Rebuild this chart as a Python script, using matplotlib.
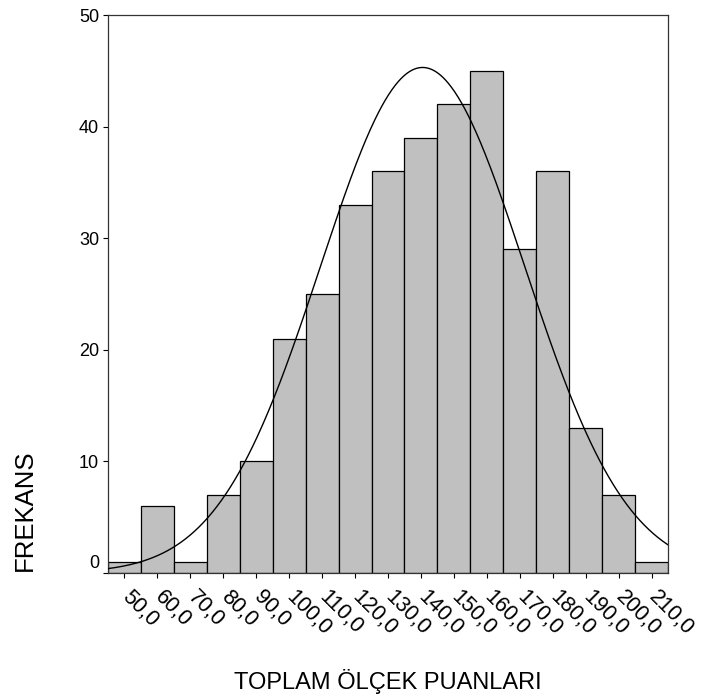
import numpy as np
import matplotlib
matplotlib.use("Agg")
import matplotlib.pyplot as plt
from matplotlib.transforms import ScaledTranslation

plt.rcParams['font.family'] = ['Liberation Sans', 'DejaVu Sans']

# bin centres and frequencies
bin_centers = [50, 60, 70, 80, 90, 100, 110, 120, 130, 140, 150, 160, 170, 180, 190, 200, 210]
frequencies = [1, 6, 1, 7, 10, 21, 25, 33, 36, 39, 42, 45, 29, 36, 13, 7, 1]
tick_labels = ["50,0", "60,0", "70,0", "80,0", "90,0", "100,0", "110,0", "120,0", "130,0",
               "140,0", "150,0", "160,0", "170,0", "180,0", "190,0", "200,0", "210,0"]
y_ticks = [0, 10, 20, 30, 40, 50]

# fitted normal curve parameters (estimated)
curve_mean = 140.5
curve_sd = 31.0
bin_width = 10

fig = plt.figure(figsize=(7.06, 7.0), dpi=100)
ax = fig.add_axes([108 / 706, 1 - 573 / 700, 560 / 706, 558 / 700])

ax.bar(bin_centers, frequencies, width=bin_width, color='#c0c0c0',
       edgecolor='black', linewidth=0.9, zorder=2)

n = sum(frequencies)
xs = np.linspace(45, 215, 500)
ys = n * bin_width / (curve_sd * np.sqrt(2 * np.pi)) * np.exp(-(xs - curve_mean) ** 2 / (2 * curve_sd ** 2))
ax.plot(xs, ys, color='black', linewidth=1.0, zorder=3)

ax.set_xlim(45, 215)
ax.set_ylim(0, 50)
ax.set_yticks(y_ticks)
ax.set_yticklabels([str(v) for v in y_ticks], fontsize=13)
ax.set_xticks(bin_centers)
ax.set_xticklabels(tick_labels, fontsize=15.5, rotation=-45, ha='left', va='top',
                   rotation_mode='anchor')
ax.tick_params(axis='both', direction='out', length=3.5, width=0.8, color='black')
ax.tick_params(axis='x', pad=6)
ax.tick_params(axis='y', pad=3)

# shift x labels slightly right
shift = ScaledTranslation(8 / 100, 0, fig.dpi_scale_trans)
for lab in ax.get_xticklabels():
    lab.set_transform(lab.get_transform() + shift)

# zero label sits above the axis line
zero_lab = ax.get_yticklabels()[0]
zero_lab.set_transform(zero_lab.get_transform() + ScaledTranslation(0, 11 / 100, fig.dpi_scale_trans))

for sp in ax.spines.values():
    sp.set_linewidth(0.9)
    sp.set_color('#333333')

fig.text(388 / 706, 1 - 682 / 700, "TOPLAM ÖLÇEK PUANLARI", ha='center', va='center', fontsize=17)
fig.text(25 / 706, 1 - 571 / 700, "FREKANS", ha='center', va='bottom', rotation=90, fontsize=18.5)

fig.savefig("out.png", dpi=100)
